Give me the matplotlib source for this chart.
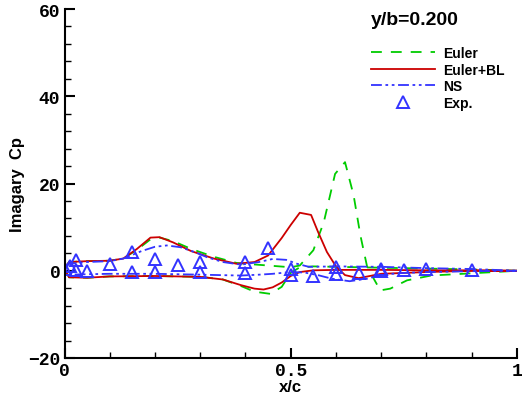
import matplotlib
matplotlib.use('Agg')
import matplotlib.pyplot as plt

# Euler (inviscid) - upper and lower surface
euler_up_x = [0.0, 0.01, 0.05, 0.1, 0.13, 0.16, 0.19, 0.21, 0.24, 0.28, 0.33, 0.38, 0.40, 0.45, 0.50, 0.52,
              0.55, 0.573, 0.598, 0.62, 0.639, 0.654, 0.669, 0.698, 0.72, 0.757, 0.81, 0.88, 0.95, 1.0]
euler_up_y = [0.5, 2.0, 2.2, 2.3, 2.8, 4.8, 7.2, 7.6, 6.8, 5.0, 3.2, 1.8, 1.6, 1.2, 0.8, 1.2,
              4.7, 11.1, 22.2, 24.9, 17.3, 8.1, 0.85, -4.5, -4.1, -2.2, -1.1, -0.7, -0.3, 0.0]
euler_lo_x = [0.0, 0.01, 0.05, 0.1, 0.2, 0.3, 0.35, 0.39, 0.42, 0.455, 0.48, 0.5, 0.52, 0.55, 0.6, 0.7, 0.8, 0.9, 1.0]
euler_lo_y = [0.5, -1.5, -1.6, -1.3, -1.2, -1.4, -2.0, -3.5, -4.8, -5.3, -3.7, -0.5, 0.8, 1.0, 0.9, 0.7, 0.5, 0.3, 0.0]

# Euler + boundary layer
ebl_up_x = [0.0, 0.01, 0.05, 0.1, 0.13, 0.16, 0.19, 0.21, 0.24, 0.28, 0.33, 0.38, 0.42, 0.45, 0.48, 0.50,
            0.52, 0.545, 0.56, 0.58, 0.60, 0.62, 0.65, 0.70, 0.8, 0.9, 1.0]
ebl_up_y = [0.5, 2.0, 2.2, 2.3, 2.8, 5.0, 7.6, 7.7, 6.5, 4.5, 2.8, 1.6, 2.0, 3.5, 7.5, 10.5,
            13.3, 12.8, 9.0, 4.3, 1.0, -1.0, -1.7, -0.7, -0.3, 0.0, 0.0]
ebl_lo_x = [0.0, 0.01, 0.05, 0.1, 0.2, 0.3, 0.35, 0.39, 0.42, 0.44, 0.46, 0.48, 0.5, 0.52, 0.55, 0.6, 0.7, 0.8, 0.9, 1.0]
ebl_lo_y = [0.5, -1.5, -1.6, -1.3, -1.2, -1.4, -2.0, -3.3, -4.1, -4.3, -3.8, -2.7, -1.2, -0.3, 0.1, 0.2, 0.2, 0.1, 0.1, 0.0]

# Navier-Stokes
ns_up_x = [0.0, 0.01, 0.05, 0.1, 0.13, 0.17, 0.2, 0.226, 0.256, 0.29, 0.315, 0.35, 0.39, 0.43, 0.46, 0.49,
           0.514, 0.54, 0.6, 0.7, 0.8, 0.9, 1.0]
ns_up_y = [0.5, 1.6, 2.0, 2.2, 2.8, 4.5, 5.5, 5.8, 5.4, 4.2, 3.1, 2.0, 1.4, 2.0, 2.7, 2.5,
           1.6, 0.9, 1.0, 0.9, 0.6, 0.4, 0.0]
ns_lo_x = [0.0, 0.01, 0.05, 0.1, 0.2, 0.3, 0.39, 0.43, 0.46, 0.5, 0.53, 0.56, 0.59, 0.63, 0.67, 0.7, 0.75, 0.8, 0.9, 1.0]
ns_lo_y = [0.5, -0.9, -0.8, -0.7, -0.7, -0.9, -1.1, -0.9, -0.7, -0.3, -0.4, -1.0, -1.8, -2.4, -1.8, -0.9, -0.5, -0.3, -0.1, 0.0]

# experiment
exp_x = [0.0, 0.0125, 0.025, 0.025, 0.05, 0.1, 0.15, 0.15, 0.2, 0.2, 0.25, 0.3, 0.3, 0.4, 0.4, 0.45,
         0.5, 0.5, 0.55, 0.6, 0.6, 0.65, 0.7, 0.7, 0.75, 0.8, 0.9]
exp_y = [0.5, 1.2, 2.4, 0.1, -0.15, 1.6, 4.3, -0.3, 2.7, -0.3, 1.4, 2.0, -0.3, 2.0, -0.5, 5.2,
         0.4, -0.9, -1.1, 0.8, -0.7, -0.5, 0.5, 0.0, 0.1, 0.4, 0.2]


def loop(ux, uy, lx, ly):
    # lower surface TE->LE then upper LE->TE
    return lx[::-1] + ux, ly[::-1] + uy


fig = plt.figure(figsize=(5.22, 4.02), dpi=100)
ax = fig.add_axes([0.1236, 0.107, 0.8667, 0.868])

x, y = loop(euler_up_x, euler_up_y, euler_lo_x, euler_lo_y)
ax.plot(x, y, color='#00cc00', lw=1.3, dashes=(6, 5), label='Euler')
x, y = loop(ebl_up_x, ebl_up_y, ebl_lo_x, ebl_lo_y)
ax.plot(x, y, color='#cc0000', lw=1.3, label='Euler+BL')
x, y = loop(ns_up_x, ns_up_y, ns_lo_x, ns_lo_y)
ax.plot(x, y, color='#3333ff', lw=1.3, dashes=(6, 2, 1.5, 2, 1.5, 2), label='NS')
ax.plot(exp_x, exp_y, ls='none', marker='^', ms=8, mfc='none', mec='#3333ff', mew=1.4, label='Exp.')

ax.set_xlim(0, 1)
ax.set_ylim(-20, 60)
ax.set_xticks([0, 0.5, 1])
ax.set_xticklabels(['0', '0.5', '1'])
ax.set_xticks([i / 10 for i in range(11)], minor=True)
ax.set_yticks([-20, 0, 20, 40, 60])
ax.set_yticks(range(-20, 61, 4), minor=True)
for s in ['top', 'right']:
    ax.spines[s].set_visible(False)
for s in ['left', 'bottom']:
    ax.spines[s].set_linewidth(1.5)
ax.tick_params(which='major', direction='in', length=7, width=1.5, pad=3)
ax.tick_params(which='minor', direction='in', length=4, width=1)
for lab in ax.get_xticklabels() + ax.get_yticklabels():
    lab.set_fontfamily('Liberation Mono')
    lab.set_fontweight('bold')
    lab.set_fontsize(13)

ax.set_xlabel('x/c', fontsize=12, fontweight='bold', family='Liberation Sans', labelpad=0)
ax.set_ylabel('Imagary  Cp', fontsize=12, fontweight='bold', family='Liberation Sans', labelpad=2)

ax.text(0.775, 0.97, 'y/b=0.200', transform=ax.transAxes, ha='center', va='center',
        fontsize=14, fontweight='bold', family='Liberation Sans')
leg = ax.legend(loc='upper left', bbox_to_anchor=(0.662, 0.913), frameon=False, borderpad=0,
                handlelength=4.6, handletextpad=0.6, labelspacing=0.18,
                prop={'family': 'Liberation Sans', 'weight': 'bold', 'size': 10})

fig.savefig('out.png', dpi=100)
